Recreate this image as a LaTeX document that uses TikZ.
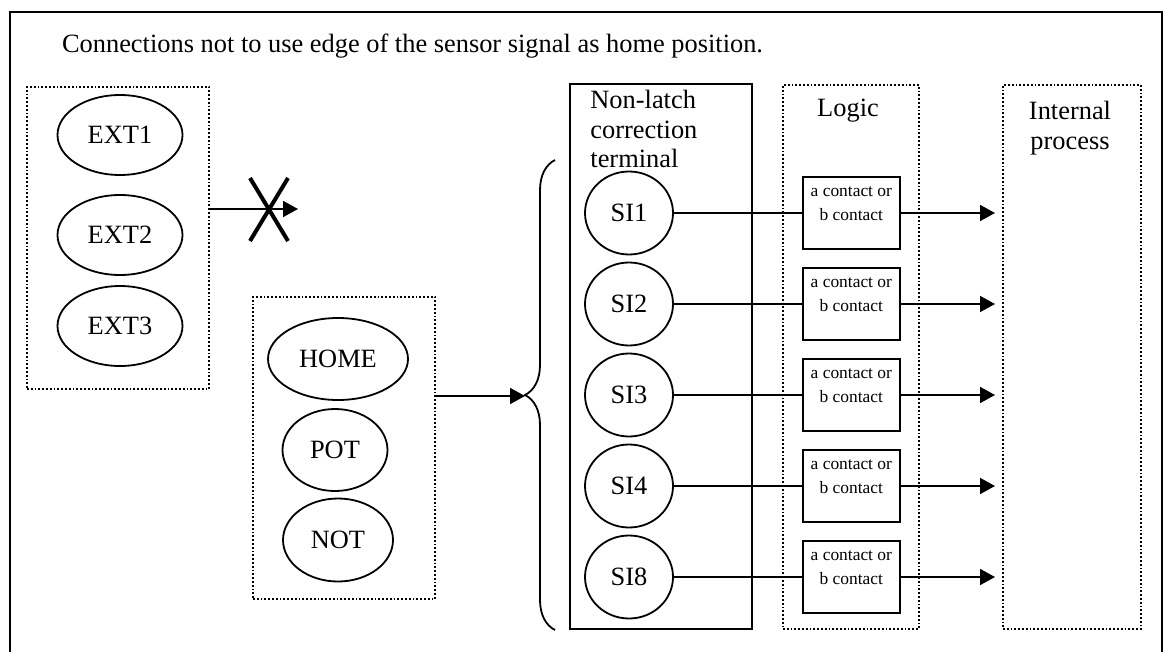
\documentclass[tikz,border=0pt]{standalone}
\usepackage{fontspec}
\setmainfont{Liberation Serif}
\usetikzlibrary{positioning,decorations.pathreplacing,arrows.meta,shapes.geometric,shapes.misc}

\begin{document}
\begin{tikzpicture}[
				x=0.5pt,y=-0.5pt,
				every node/.style={font=\fontsize{13.2}{14.8}\selectfont},
				sens/.style={
					draw,
					ellipse,
					line width=0.9pt,
					inner sep=0pt,
					minimum height=40pt
				},
				termc/.style={
					draw,
					ellipse,
					line width=0.9pt,
					inner sep=0pt,
					minimum width=44pt,
					minimum height=41.5pt
				},
				cbox/.style={
					draw,
					rectangle,
					line width=0.9pt,
					inner sep=0pt,
					minimum width=48.5pt,
					minimum height=36pt,
					align=center,
					font=\fontsize{8.7}{12}\selectfont
				},
				grp/.style={
					draw,
					densely dotted,
					line width=0.9pt,
					minimum width=91pt,
					minimum height=151pt
				},
				col/.style={
					draw,
					densely dotted,
					line width=0.9pt,
					minimum width=68pt,
					minimum height=272pt
				},
				arr/.style={line width=0.9pt,-{Triangle[length=7.5pt,width=8pt]}}
			]
			\useasboundingbox (0,0) rectangle (1165,652);
			\draw[line width=1.2pt] (10,652) -- (10,12) -- (1162,12) -- (1162,652);
			\node[anchor=base west] (title) at (55,53)
			{Connections not to use edge of the sensor signal as home position.};

			\node[grp] (extbox) at (118,238) {};
			\node[sens,minimum width=62.5pt] (ext1) at (120,135) {EXT1};
			\node[sens,minimum width=62.5pt] (ext2) at (120,235) {EXT2};
			\node[sens,minimum width=62.5pt] (ext3) at (120,326) {EXT3};
			\coordinate (nowhere) at (298,209);
			\draw[arr] (extbox.east |- nowhere) -- (nowhere);
			\node[cross out,draw,line width=2pt,inner sep=0pt,
				minimum width=17pt,minimum height=29.5pt] (nogo) at (269,209.5) {};

			\node[grp] (homebox) at (344,448) {};
			\node[sens,minimum width=70pt,minimum height=41pt] (home) at (338,359) {HOME};
			\node[sens,minimum width=52.5pt,minimum height=41pt] (pot) at (335,450) {POT};
			\node[sens,minimum width=55pt,minimum height=41.5pt] (not) at (338,540) {NOT};
			\coordinate (btip) at (525,396);
			\draw[arr] (homebox.east |- btip) -- (btip);
			\draw[line width=0.9pt,decorate,decoration={brace,amplitude=15pt}]
			(555,630) -- (555,160);

			\node[draw,line width=0.9pt,minimum width=91pt,minimum height=272.5pt]
			(termbox) at (661,356.5) {};
			\node[anchor=north west,align=left,inner sep=0pt] (termtxt) at (590,90)
			{Non-latch\\correction\\terminal};
			\node[col] (logic) at (851,357) {};
			\node[anchor=base] (logictxt) at (848,117) {Logic};
			\node[col,minimum width=69pt] (intproc) at (1072,357) {};
			\node[anchor=north,align=center,inner sep=0pt] (inttxt) at (1070,101)
			{Internal\\process};

			\foreach \n/\y in {1/213,2/304,3/395,4/486,8/577}{
				\node[termc] (si\n) at (629,\y) {SI\n};
				\node[cbox,right=64pt of si\n] (ct\n)
				{a contact or\\b contact\\[-3pt]\mbox{}};
				\coordinate (out\n) at (995,\y);
				\draw[line width=0.9pt] (si\n) -- (ct\n);
				\draw[arr] (ct\n) -- (out\n);
			}
		\end{tikzpicture}
\end{document}
